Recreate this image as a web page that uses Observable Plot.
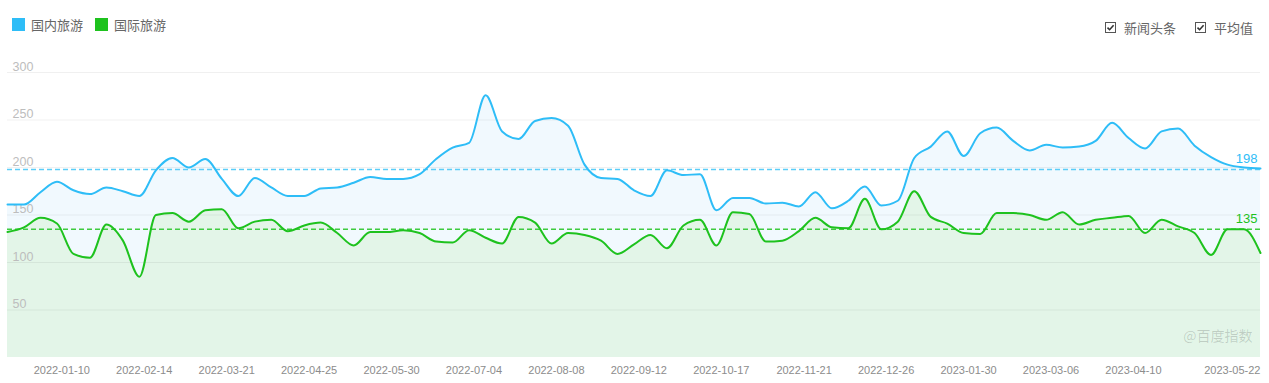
<!DOCTYPE html>
<html><head><meta charset="utf-8">
<script src="https://cdn.jsdelivr.net/npm/d3@7"></script>
<script src="https://cdn.jsdelivr.net/npm/@observablehq/plot@0.6"></script>
<style>
body{margin:0;background:#fff;font-family:"Helvetica Neue",Arial,"Liberation Sans","Noto Sans CJK SC",sans-serif;}
#wrap{position:relative;width:1269px;height:383px;overflow:hidden;}
#chart{position:absolute;left:0;top:0;}
.leg{position:absolute;top:17px;height:14px;display:flex;align-items:center;font-size:13px;color:#666;font-family:"Noto Sans CJK SC","Helvetica Neue",Arial,sans-serif;white-space:nowrap;}
.sw{width:13px;height:13px;margin-right:6px;}
.cb{width:11px;height:11px;margin-right:8px;}
</style></head>
<body>
<div id="wrap">
  <div id="chart"></div>
  <div class="leg" style="left:12px;top:17px"><span class="sw" id="sw0"></span><span id="lg0"></span></div>
  <div class="leg" style="left:95px;top:17px"><span class="sw" id="sw1"></span><span id="lg1"></span></div>
  <div class="leg" style="left:1105px;top:20px"><svg class="cb" viewBox="0 0 11 11"><rect x="0.5" y="0.5" width="10" height="10" fill="#fff" stroke="#555"/><path d="M2.5 5.6 L4.6 7.7 L8.6 3.2" fill="none" stroke="#333" stroke-width="1.6"/></svg><span id="op0"></span></div>
  <div class="leg" style="left:1195px;top:20px"><svg class="cb" viewBox="0 0 11 11"><rect x="0.5" y="0.5" width="10" height="10" fill="#fff" stroke="#555"/><path d="M2.5 5.6 L4.6 7.7 L8.6 3.2" fill="none" stroke="#333" stroke-width="1.6"/></svg><span id="op1"></span></div>
</div>
<script>
// ---- data ----
const seriesNames = ["国内旅游", "国际旅游"];
const seriesColors = ["#2ebdf7", "#1ec21e"];
const optionNames = ["新闻头条", "平均值"];
const watermark = "@百度指数";
const startDate = "2021-12-06"; // weekly points (Mondays)
const domestic = [161,161,174,185,176,172,179,175,170,197,
  210,200,209,188,170,189,179,170,170,178,
  179,184,190,188,188,193,209,221,226,276,
  238,230,249,252,244,203,189,188,176,170,
  197,192,193,155,168,168,162,163,159,174,
  157,165,180,160,165,210,222,238,212,236,
  242,228,218,224,221,222,228,247,231,220,
  238,241,223,211,203,200,199];
const international = [132,137,147,141,109,105,140,123,85,150,
  152,143,155,156,136,143,145,133,139,142,
  131,118,132,132,134,131,122,121,134,126,
  120,148,142,120,131,129,123,109,119,129,
  115,139,145,118,153,151,122,123,133,147,
  137,136,167,135,143,175,148,141,131,130,
  152,152,150,145,153,140,145,147,149,131,
  145,138,131,108,135,135,110];
const xTickLabels = ["2022-01-10","2022-02-14","2022-03-21","2022-04-25","2022-05-30","2022-07-04","2022-08-08","2022-09-12","2022-10-17","2022-11-21","2022-12-26","2023-01-30","2023-03-06","2023-04-10","2023-05-22"];
const yTicks = [50,100,150,200,250,300];

// ---- build ----
const parse = d3.utcParse("%Y-%m-%d");
const start = parse(startDate);
const rows = domestic.map((v,i)=>({date:d3.utcDay.offset(start,7*i), dom:v, intl:international[i]}));
const avgDom = Math.round(d3.mean(domestic));
const avgIntl = Math.round(d3.mean(international));
const xTicks = xTickLabels.map(parse);

document.getElementById("sw0").style.background = seriesColors[0];
document.getElementById("sw1").style.background = seriesColors[1];
document.getElementById("lg0").textContent = seriesNames[0];
document.getElementById("lg1").textContent = seriesNames[1];
document.getElementById("op0").textContent = optionNames[0];
document.getElementById("op1").textContent = optionNames[1];

const font = '"Helvetica Neue",Arial,"Liberation Sans",sans-serif';
const chart = Plot.plot({
  width: 1269, height: 383,
  marginLeft: 7, marginRight: 9, marginTop: 72, marginBottom: 26,
  x: {type: "utc", domain: [rows[0].date, rows[rows.length-1].date]},
  y: {domain: [0, 300], axis: null},
  style: {fontFamily: font, background: "transparent", overflow: "visible"},
  marks: [
    Plot.areaY(rows, {x: "date", y: "dom", fill: "#f1f9fe", curve: "monotone-x"}),
    Plot.areaY(rows, {x: "date", y: "intl", fill: "#e3f5e8", curve: "monotone-x"}),
    Plot.ruleY(yTicks, {stroke: "#000", strokeOpacity: 0.06}),
    Plot.text(yTicks, {y: d => d, text: d => String(d), frameAnchor: "left", textAnchor: "start", dx: 5, dy: -6, fill: "#bdbdbd", fontSize: 12.5}),
    Plot.ruleY([avgDom], {stroke: "#5ccdf8", strokeWidth: 1.5, strokeDasharray: "5,3"}),
    Plot.ruleY([avgIntl], {stroke: "#3fcb3f", strokeWidth: 1.5, strokeDasharray: "5,3"}),
    Plot.line(rows, {x: "date", y: "dom", stroke: seriesColors[0], strokeWidth: 2, curve: "monotone-x"}),
    Plot.line(rows, {x: "date", y: "intl", stroke: seriesColors[1], strokeWidth: 2, curve: "monotone-x"}),
    Plot.text([avgDom], {y: d => d, text: d => String(d), frameAnchor: "right", textAnchor: "end", dx: -3, dy: -10.5, fill: seriesColors[0], fontSize: 13}),
    Plot.text([avgIntl], {y: d => d, text: d => String(d), frameAnchor: "right", textAnchor: "end", dx: -3, dy: -10.5, fill: seriesColors[1], fontSize: 13}),
    Plot.text([watermark], {frameAnchor: "bottom-right", textAnchor: "end", dx: -8, dy: -17, fill: "#000", fillOpacity: 0.16, fontSize: 14, fontFamily: '"Noto Sans CJK SC",sans-serif'}),
    Plot.axisX(xTicks, {tickSize: 0, tickPadding: 9, textAnchor: "end", fill: "#8c8c8c", fontSize: 11, tickFormat: d3.utcFormat("%Y-%m-%d")})
  ]
});
document.getElementById("chart").appendChild(chart);
</script>
</body></html>
